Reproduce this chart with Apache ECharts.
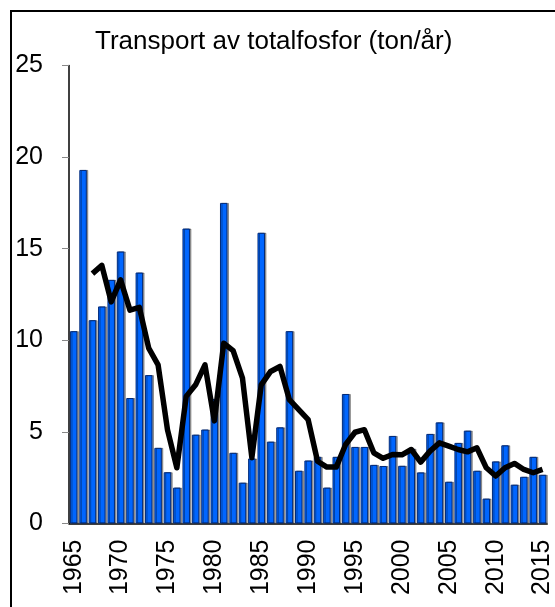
<!DOCTYPE html>
<html>
<head>
<meta charset="utf-8">
<script src="https://cdn.jsdelivr.net/npm/echarts@6/dist/echarts.min.js"></script>
<style>
  html, body { margin: 0; padding: 0; background: #fff; }
  #main { width: 555px; height: 607px; }
</style>
</head>
<body>
<div id="main"></div>
<script>
// år 1965-2015
var years = [];
for (var y = 1965; y <= 2015; y++) years.push(String(y));

// årlig transport (ton/år)
var transport = [
  10.5, 19.3, 11.1, 11.85, 13.3, 14.85, 6.85, 13.7, 8.1, 4.13,
  2.8, 1.96, 16.1, 4.85, 5.13, 6.8, 17.5, 3.86, 2.23, 3.55,
  15.87, 4.47, 5.25, 10.5, 2.88, 3.44, 3.64, 1.96, 3.64, 7.07,
  4.18, 4.18, 3.2, 3.14, 4.78, 3.15, 4.08, 2.79, 4.89, 5.52,
  2.28, 4.4, 5.07, 2.88, 1.36, 3.39, 4.27, 2.12, 2.55, 3.64,
  2.66
];

// glidande medel
var medel = [
  null, null, 13.64, 14.09, 12.1, 13.3, 11.65, 11.8, 9.57, 8.66,
  5.12, 3.04, 6.94, 7.57, 8.66, 5.6, 9.84, 9.44, 7.93, 3.59,
  7.57, 8.3, 8.57, 6.76, 6.21, 5.67, 3.4, 3.08, 3.08, 4.31,
  4.98, 5.12, 3.86, 3.56, 3.77, 3.75, 4.04, 3.35, 3.95, 4.4,
  4.22, 4.04, 3.91, 4.13, 3.04, 2.59, 3.04, 3.28, 2.95, 2.77,
  2.95
];

var yTicks = [0, 5, 10, 15, 20, 25];

var myChart = echarts.init(document.getElementById('main'));

var font = 'Liberation Sans, Arial, sans-serif';

var option = {
    animation: false,
    backgroundColor: '#fff',
    title: {
        text: 'Transport av totalfosfor (ton/år)',
        left: 90,
        top: 24,
        textStyle: { fontFamily: font, fontWeight: 'normal', fontSize: 26, color: '#000' }
    },
    graphic: [{
        type: 'rect',
        shape: { x: 11, y: 11, width: 620, height: 700 },
        style: { fill: 'none', stroke: '#000', lineWidth: 2 },
        silent: true
    }],
    grid: { left: 69, right: 1.5, top: 65.5, bottom: 83.5 },
    xAxis: {
        type: 'category',
        data: years,
        axisLine: { lineStyle: { color: '#000', width: 1.5 } },
        axisTick: { show: false },
        axisLabel: {
            interval: 4,
            rotate: 90,
            margin: 16,
            fontFamily: font,
            fontSize: 25,
            color: '#000'
        }
    },
    yAxis: {
        type: 'value',
        min: yTicks[0],
        max: yTicks[yTicks.length - 1],
        interval: 5,
        splitLine: { show: false },
        axisLine: { show: true, lineStyle: { color: '#000', width: 1.5 } },
        axisTick: { show: true, length: 7, lineStyle: { color: '#888' } },
        axisLabel: { margin: 26, fontFamily: font, fontSize: 25, color: '#000' }
    },
    series: [{
        name: 'Transport',
        type: 'bar',
        data: transport,
        barWidth: 7.5,
        itemStyle: {
            color: '#0066ff',
            borderColor: '#002a7a',
            borderWidth: 1,
            shadowColor: 'rgba(0,0,0,0.35)',
            shadowOffsetX: 1.5,
            shadowOffsetY: 0,
            shadowBlur: 0
        },
        z: 2
    }, {
        name: 'Medel',
        type: 'line',
        data: medel,
        symbol: 'none',
        connectNulls: false,
        lineStyle: { color: '#000', width: 5.5, join: 'round' },
        z: 3
    }]
};
myChart.setOption(option);
</script>
</body>
</html>
